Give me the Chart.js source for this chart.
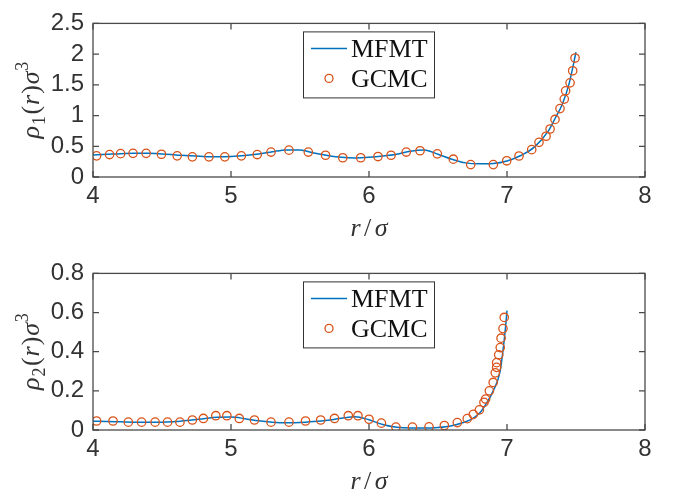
<!DOCTYPE html>
<html>
<head>
<meta charset="utf-8">
<script src="https://cdn.jsdelivr.net/npm/chart.js@4"></script>
<style>
body { margin: 0; background: #fff; }
#wrap { position: relative; width: 676px; height: 499px; }
canvas { position: absolute; left: 0; }
</style>
</head>
<body>
<div id="wrap">
  <canvas id="top" width="676" height="250" style="top:0px"></canvas>
  <canvas id="bottom" width="676" height="249" style="top:250px"></canvas>
</div>
<script>
// ---- data ----
// upper panel: rho_1
const r1Line   = [4.0,4.1,4.2,4.3,4.4,4.5,4.6,4.7,4.8,4.9,5.0,5.1,5.2,5.3,5.4,5.5,5.6,5.7,5.8,5.9,6.0,6.1,6.2,6.3,6.4,6.5,6.6,6.7,6.8,6.9,7.0,7.1,7.2,7.3,7.35,7.4,7.45,7.5];
const rho1Line = [0.36,0.37,0.38,0.385,0.385,0.375,0.36,0.345,0.335,0.33,0.335,0.35,0.375,0.41,0.44,0.44,0.39,0.35,0.32,0.31,0.32,0.34,0.37,0.42,0.44,0.37,0.29,0.23,0.215,0.22,0.26,0.35,0.49,0.75,0.96,1.18,1.52,2.03];
const r1Gcmc   = [4.026,4.12,4.20,4.29,4.385,4.496,4.61,4.72,4.84,4.955,5.075,5.19,5.29,5.42,5.56,5.685,5.81,5.94,6.065,6.16,6.27,6.37,6.495,6.611,6.737,6.901,6.998,7.087,7.179,7.232,7.283,7.312,7.348,7.384,7.415,7.425,7.457,7.476,7.493];
const rho1Gcmc = [0.344,0.365,0.38,0.385,0.385,0.37,0.344,0.328,0.328,0.328,0.344,0.365,0.406,0.437,0.406,0.354,0.313,0.313,0.333,0.354,0.406,0.427,0.377,0.290,0.202,0.202,0.264,0.342,0.445,0.564,0.663,0.781,0.937,1.113,1.268,1.402,1.532,1.729,1.936];

// lower panel: rho_2
const r2Line   = [4.0,4.1,4.2,4.3,4.4,4.5,4.6,4.7,4.8,4.9,5.0,5.1,5.2,5.3,5.4,5.5,5.6,5.7,5.8,5.9,6.0,6.1,6.2,6.3,6.4,6.5,6.6,6.7,6.75,6.8,6.85,6.9,6.95,6.975,6.99,7.0];
const rho2Line = [0.045,0.044,0.042,0.040,0.039,0.040,0.043,0.050,0.058,0.065,0.066,0.058,0.047,0.040,0.037,0.038,0.043,0.050,0.060,0.068,0.052,0.028,0.014,0.010,0.010,0.013,0.022,0.042,0.058,0.085,0.135,0.20,0.30,0.43,0.53,0.61];
const r2Gcmc   = [4.026,4.145,4.256,4.352,4.45,4.54,4.63,4.72,4.80,4.89,4.97,5.06,5.17,5.29,5.42,5.54,5.65,5.75,5.85,5.92,6.00,6.09,6.195,6.315,6.435,6.546,6.64,6.712,6.756,6.80,6.833,6.845,6.872,6.90,6.915,6.925,6.925,6.94,6.951,6.957,6.971,6.98];
const rho2Gcmc = [0.046,0.046,0.040,0.040,0.040,0.040,0.040,0.051,0.059,0.073,0.073,0.059,0.051,0.040,0.040,0.046,0.051,0.059,0.073,0.073,0.055,0.035,0.015,0.015,0.016,0.023,0.038,0.058,0.080,0.103,0.141,0.158,0.200,0.243,0.292,0.320,0.344,0.384,0.421,0.469,0.518,0.575];

const seriesNames = ['MFMT', 'GCMC'];
const xRange = [4, 8];

const blue = '#0072BD';
const orange = '#D95319';
const axisColor = '#4a4a4a';
const textColor = '#333333';

function serifFont(p, size) {
  const s = p.small ? Math.round(size * 0.7) : size;
  return (p.it ? 'italic ' : '') + s + 'px "Liberation Serif", "DejaVu Serif", serif';
}

// draws a label made of pieces (italic / sub / sup) centred on 0
function drawRich(ctx, parts, size) {
  let w = 0;
  parts.forEach(p => { ctx.font = serifFont(p, size); p.w = ctx.measureText(p.t).width + (p.pad || 0); w += p.w; });
  let x = -w / 2;
  parts.forEach(p => {
    ctx.font = serifFont(p, size);
    ctx.fillText(p.t, x + (p.pad || 0) / 2, (p.dy || 0) * size);
    x += p.w;
  });
}

const xLabel = [{t: 'r', it: true, pad: 3}, {t: '/', pad: 4}, {t: 'σ', it: true, pad: 3}];

const framePlugin = {
  id: 'frame',
  afterDraw(chart, args, opts) {
    const ctx = chart.ctx, a = chart.chartArea;
    const xs = chart.scales.x, ys = chart.scales.y;
    ctx.save();
    // box + inward ticks
    ctx.strokeStyle = axisColor;
    ctx.lineWidth = 1.3;
    ctx.strokeRect(a.left, a.top, a.right - a.left, a.bottom - a.top);
    ctx.beginPath();
    xs.ticks.forEach(t => {
      const px = xs.getPixelForValue(t.value);
      ctx.moveTo(px, a.bottom); ctx.lineTo(px, a.bottom - 6);
      ctx.moveTo(px, a.top); ctx.lineTo(px, a.top + 6);
    });
    ys.ticks.forEach(t => {
      const py = ys.getPixelForValue(t.value);
      ctx.moveTo(a.left, py); ctx.lineTo(a.left + 6, py);
      ctx.moveTo(a.right, py); ctx.lineTo(a.right - 6, py);
    });
    ctx.stroke();

    // legend box
    const lx = a.left + 210, ly = a.top + 8;
    ctx.fillStyle = '#fff';
    ctx.fillRect(lx, ly, 131, 66);
    ctx.strokeStyle = '#333';
    ctx.lineWidth = 1;
    ctx.strokeRect(lx + 0.5, ly + 0.5, 131, 66);
    ctx.strokeStyle = blue; ctx.lineWidth = 1.5;
    ctx.beginPath(); ctx.moveTo(lx + 8, ly + 17); ctx.lineTo(lx + 44, ly + 17); ctx.stroke();
    ctx.strokeStyle = orange; ctx.lineWidth = 1.3;
    ctx.beginPath(); ctx.arc(lx + 26, ly + 47, 4, 0, Math.PI * 2); ctx.stroke();
    ctx.fillStyle = '#111';
    ctx.font = '26px "Liberation Serif", serif';
    ctx.textBaseline = 'alphabetic';
    ctx.textAlign = 'left';
    ctx.fillText(seriesNames[0], lx + 48, ly + 26);
    ctx.fillText(seriesNames[1], lx + 48, ly + 56);

    // axis labels
    ctx.fillStyle = textColor;
    ctx.save();
    ctx.translate((a.left + a.right) / 2, a.bottom + 59);
    drawRich(ctx, xLabel, 26);
    ctx.restore();
    ctx.save();
    ctx.translate(39, (a.top + a.bottom) / 2);
    ctx.rotate(-Math.PI / 2);
    drawRich(ctx, opts.ylabel, 26);
    ctx.restore();
    ctx.restore();
  }
};

const tickFmt = v => String(+v.toFixed(2));

function makeChart(id, lx, ly, gx, gy, yMax, yStep, padTop, xHeight, ylabel) {
  return new Chart(document.getElementById(id), {
    type: 'scatter',
    data: {
      datasets: [{
        label: seriesNames[0],
        data: lx.map((x, i) => ({x: x, y: ly[i]})),
        showLine: true,
        pointRadius: 0,
        borderColor: blue,
        borderWidth: 1.5,
        cubicInterpolationMode: 'monotone',
        order: 1
      }, {
        label: seriesNames[1],
        data: gx.map((x, i) => ({x: x, y: gy[i]})),
        showLine: false,
        pointRadius: 4.2,
        borderColor: orange,
        backgroundColor: 'rgba(0,0,0,0)',
        borderWidth: 1.3,
        order: 0
      }]
    },
    options: {
      responsive: false,
      animation: false,
      layout: { padding: { left: 0, right: 31, top: padTop, bottom: 0 } },
      plugins: {
        legend: { display: false },
        tooltip: { enabled: false },
        frame: { ylabel: ylabel }
      },
      scales: {
        x: {
          type: 'linear', min: xRange[0], max: xRange[1],
          ticks: { stepSize: 1, autoSkip: false, padding: 5, color: textColor, callback: tickFmt, font: { family: 'Liberation Sans', size: 24 } },
          grid: { display: false, drawTicks: false },
          border: { display: false },
          afterFit: s => { s.height = xHeight; }
        },
        y: {
          min: 0, max: yMax,
          ticks: { stepSize: yStep, autoSkip: false, padding: 9, color: textColor, callback: tickFmt, font: { family: 'Liberation Sans', size: 24 } },
          grid: { display: false, drawTicks: false },
          border: { display: false },
          afterFit: s => { s.width = 93; }
        }
      }
    },
    plugins: [framePlugin]
  });
}

makeChart('top', r1Line, rho1Line, r1Gcmc, rho1Gcmc, 2.5, 0.5, 16, 73,
  [{t: 'ρ', it: true}, {t: '1', small: true, dy: 0.22, pad: 2}, {t: '(', pad: 1}, {t: 'r', it: true, pad: 1}, {t: ')', pad: 1}, {t: 'σ', it: true, pad: 1}, {t: '3', small: true, dy: -0.42}]);
makeChart('bottom', r2Line, rho2Line, r2Gcmc, rho2Gcmc, 0.8, 0.2, 19, 69,
  [{t: 'ρ', it: true}, {t: '2', small: true, dy: 0.22, pad: 2}, {t: '(', pad: 1}, {t: 'r', it: true, pad: 1}, {t: ')', pad: 1}, {t: 'σ', it: true, pad: 1}, {t: '3', small: true, dy: -0.42}]);
</script>
</body>
</html>
